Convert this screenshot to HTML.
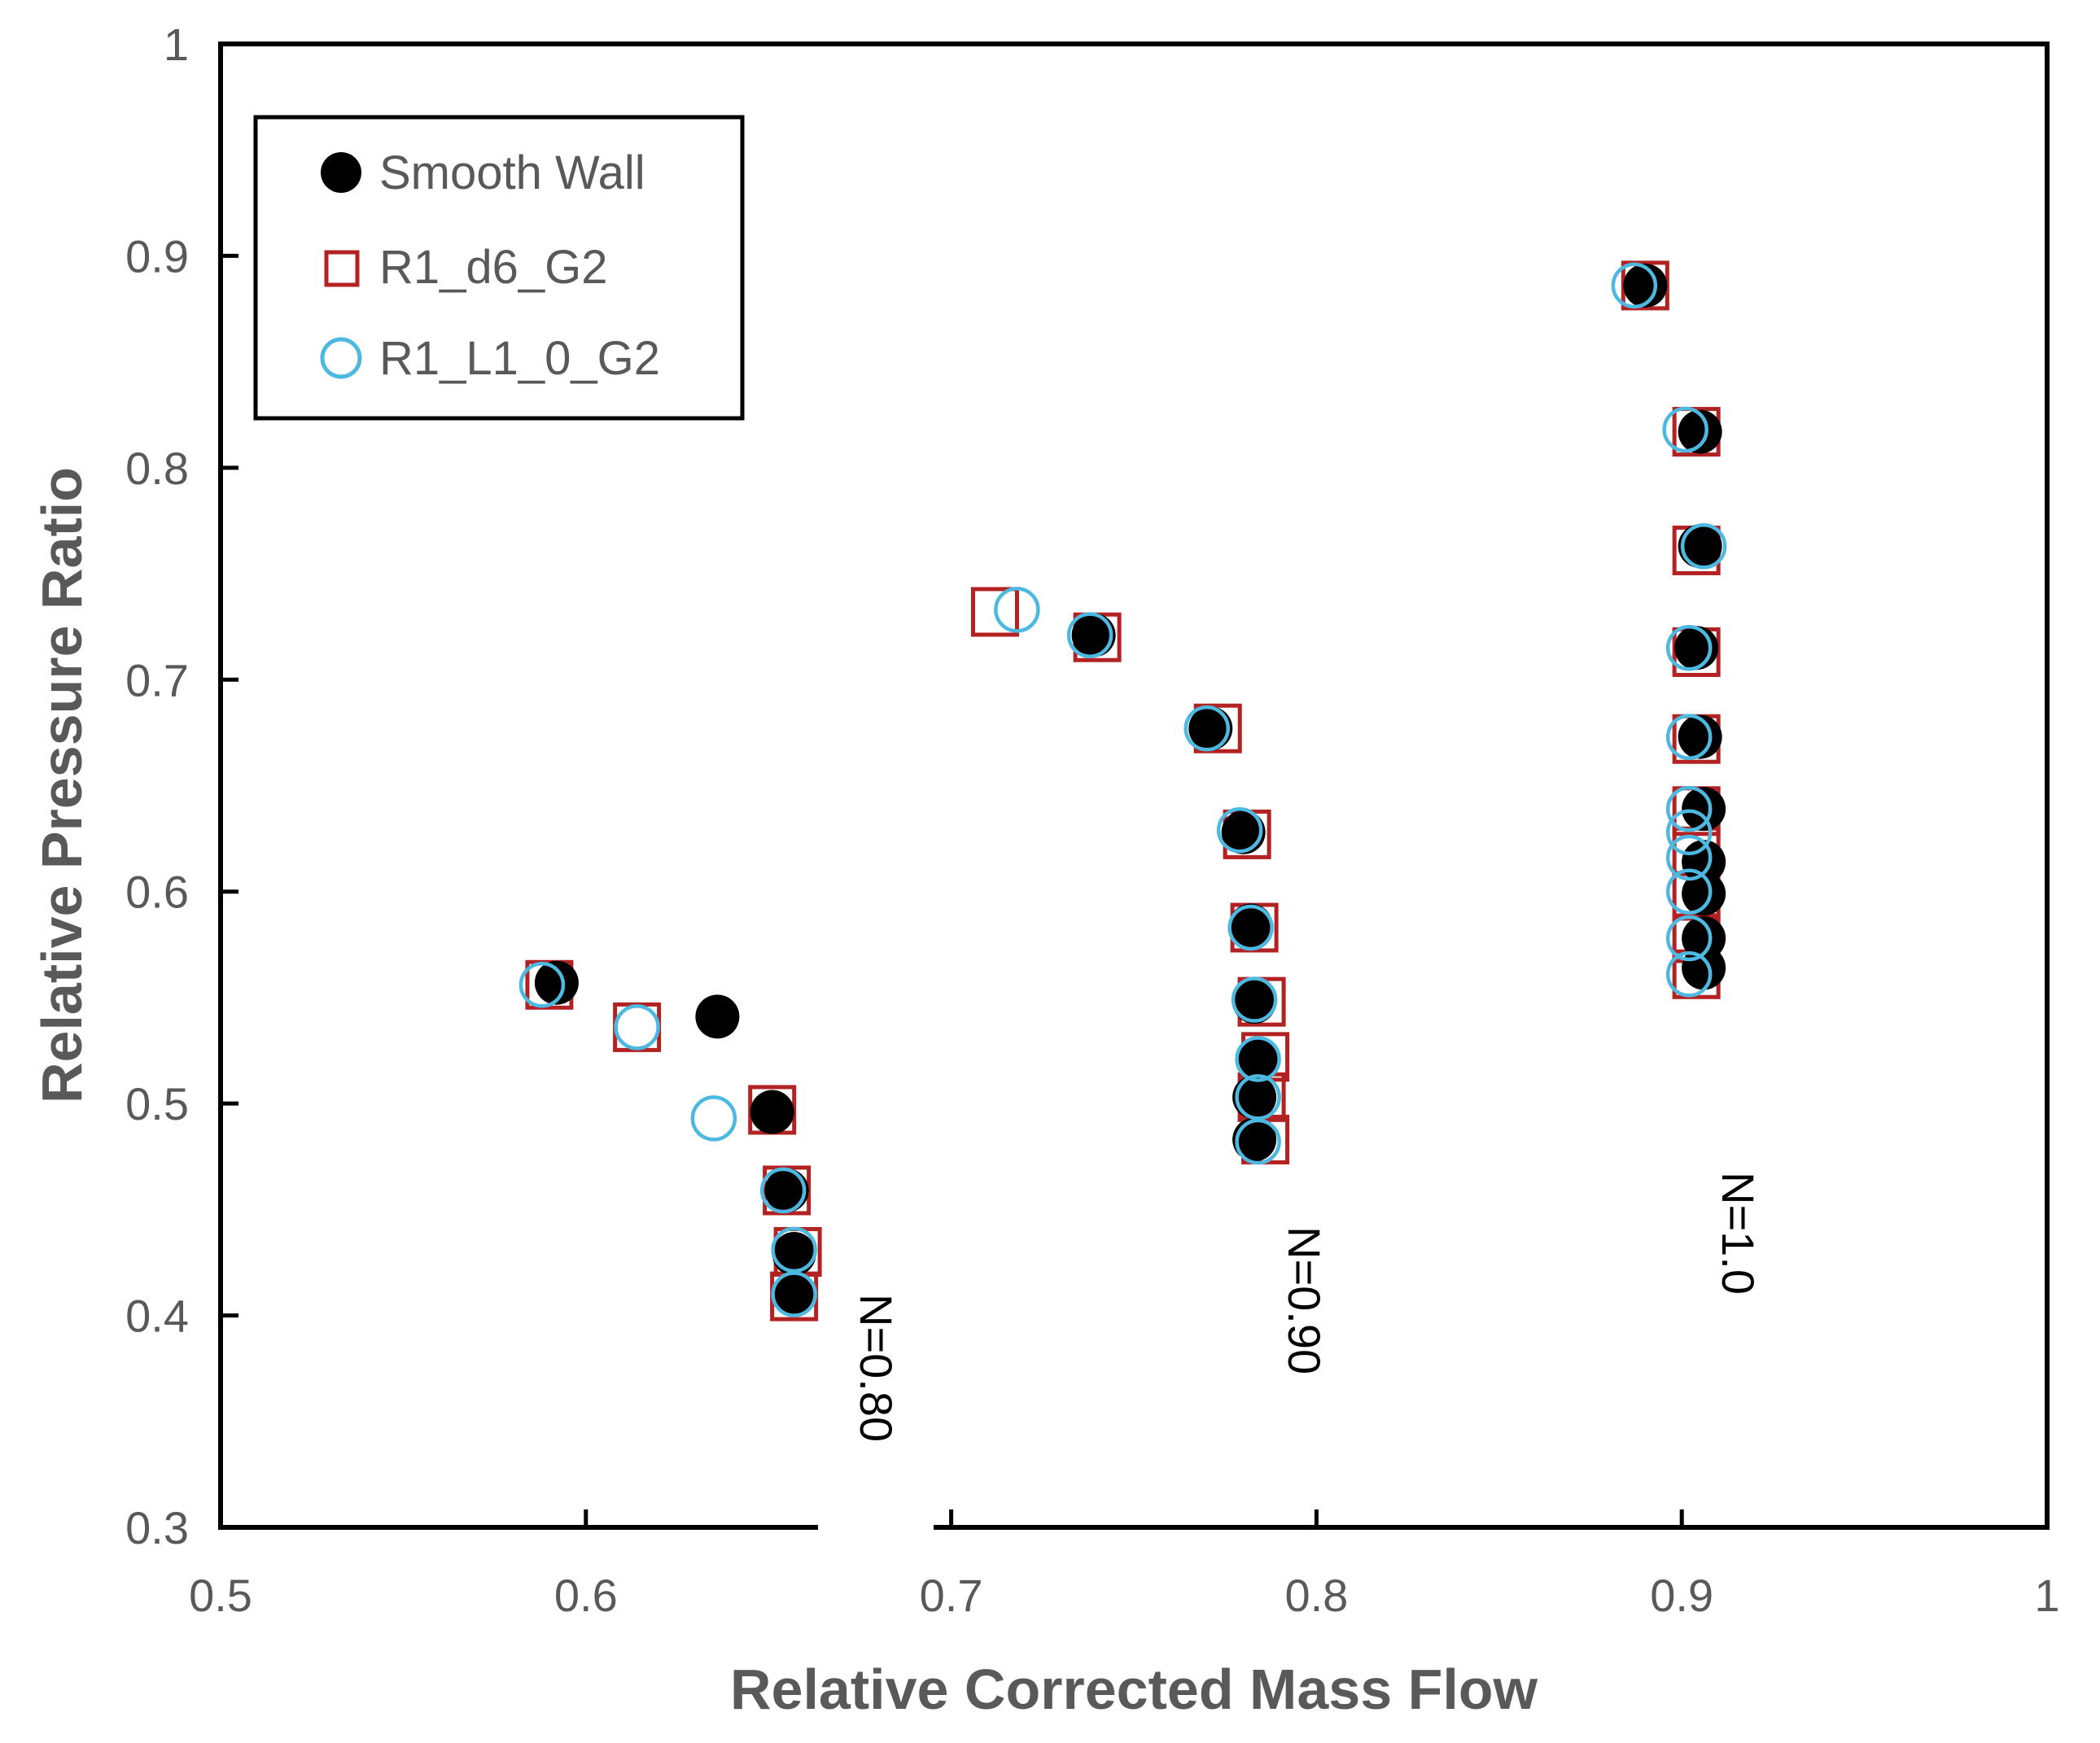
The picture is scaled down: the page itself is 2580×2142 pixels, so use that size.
<!DOCTYPE html>
<html><head><meta charset="utf-8">
<style>
html,body{margin:0;padding:0;background:#fff;}
svg{display:block;}
text{font-family:"Liberation Sans",sans-serif;}
</style></head>
<body>
<svg id="chart" width="2580" height="2142" viewBox="0 0 2580 2142" xmlns="http://www.w3.org/2000/svg">
<rect x="0" y="0" width="2580" height="2142" fill="#fff"/>
<g id="marks"></g>
<g id="axes"></g>
<g id="legend">
  <rect x="314" y="144" width="598" height="370" fill="#fff" stroke="#000" stroke-width="5"/>
  <g>
    <ellipse cx="419" cy="212" rx="25" ry="25" fill="#000"/>
    <text x="466" y="232" font-size="58" fill="#595959">Smooth Wall</text>
  </g>
  <g>
    <rect x="401" y="310" width="38" height="40" fill="none" stroke="#b22222" stroke-width="5"/>
    <text x="466" y="348" font-size="58" fill="#595959">R1_d6_G2</text>
  </g>
  <g>
    <circle cx="419" cy="440" r="23" fill="none" stroke="#4db8e0" stroke-width="5"/>
    <text x="466" y="460" font-size="58" fill="#595959">R1_L1_0_G2</text>
  </g>
</g>
<text x="1393" y="2100" text-anchor="middle" font-size="70" font-weight="bold" fill="#595959">Relative Corrected Mass Flow</text>
<text transform="translate(100,965) rotate(-90)" text-anchor="middle" font-size="70" font-weight="bold" fill="#595959">Relative Pressure Ratio</text>
<text transform="translate(1057,1590) rotate(90)" font-size="56" fill="#000">N=0.80</text>
<text transform="translate(1583,1507) rotate(90)" font-size="56" fill="#000">N=0.90</text>
<text transform="translate(2116,1440) rotate(90)" font-size="56" fill="#000">N=1.0</text>
</svg>
<script>
const xTicks = [0.5,0.6,0.7,0.8,0.9,1];
const xTickLabels = ["0.5","0.6","0.7","0.8","0.9","1"];
const yTicks = [0.3,0.4,0.5,0.6,0.7,0.8,0.9,1];
const yTickLabels = ["0.3","0.4","0.5","0.6","0.7","0.8","0.9","1"];

const smoothX = [0.592,0.636,0.651,0.655,0.657,0.657, 0.739,0.771,0.780,0.782,0.783,0.784,0.783,0.783, 0.890,0.905,0.905,0.904,0.905,0.906,0.906,0.906,0.906,0.906];
const smoothY = [0.557,0.541,0.496,0.459,0.429,0.410, 0.721,0.677,0.628,0.584,0.548,0.521,0.503,0.483, 0.886,0.817,0.763,0.715,0.673,0.639,0.614,0.599,0.578,0.564];
const d6X = [0.590,0.614,0.651,0.655,0.658,0.657, 0.712,0.740,0.773,0.781,0.783,0.785,0.786,0.785,0.786, 0.890,0.904,0.904,0.904,0.904,0.904,0.904,0.904,0.904,0.904];
const d6Y = [0.556,0.536,0.497,0.459,0.430,0.409, 0.732,0.720,0.677,0.627,0.583,0.548,0.522,0.503,0.483, 0.886,0.817,0.761,0.713,0.672,0.638,0.619,0.598,0.578,0.561];
const l1X = [0.588,0.614,0.635,0.654,0.657,0.657, 0.718,0.738,0.770,0.779,0.782,0.783,0.784,0.784,0.784, 0.887,0.901,0.906,0.902,0.902,0.902,0.902,0.902,0.902,0.902,0.902];
const l1Y = [0.556,0.536,0.493,0.459,0.431,0.410, 0.733,0.721,0.677,0.629,0.583,0.549,0.521,0.503,0.482, 0.886,0.818,0.763,0.715,0.673,0.639,0.628,0.616,0.600,0.578,0.561];

const X0=271, X1=2515, Y0=1877, Y1=54;
function sx(v){return X0+(v-0.5)/0.5*(X1-X0);}
function sy(v){return Y0-(v-0.3)/0.7*(Y0-Y1);}
const NS="http://www.w3.org/2000/svg";
function mk(tag,attrs,parent){const e=document.createElementNS(NS,tag);for(const k in attrs)e.setAttribute(k,attrs[k]);parent.appendChild(e);return e;}
const marks=document.getElementById('marks');
const axes=document.getElementById('axes');

for(let i=0;i<d6X.length;i++){
  const e=mk('rect',{x:sx(d6X[i])-27,y:sy(d6Y[i])-28,width:54,height:56,fill:'none',stroke:'#b22222','stroke-width':5},marks);
  
  
}
for(let i=0;i<smoothX.length;i++){
  const e=mk('circle',{cx:sx(smoothX[i]),cy:sy(smoothY[i]),r:27,fill:'#000'},marks);
  
  
}
for(let i=0;i<l1X.length;i++){
  const e=mk('circle',{cx:sx(l1X[i]),cy:sy(l1Y[i]),r:26,fill:'none',stroke:'#4db8e0','stroke-width':4.5},marks);
  
  
}

const fr=mk('rect',{x:X0,y:Y1,width:X1-X0,height:Y0-Y1,fill:'none',stroke:'#000','stroke-width':6},axes);


const gap=mk('rect',{x:1005,y:Y0-5,width:142,height:12,fill:'#fff'},axes);



for(let i=0;i<xTicks.length;i++){
  const x=sx(xTicks[i]);
  if(i>0&&i<xTicks.length-1){
    const t=mk('line',{x1:x,y1:Y0,x2:x,y2:Y0-22,stroke:'#000','stroke-width':5},axes);
    
    
  }
  const l=mk('text',{x:x,y:1980,'text-anchor':'middle','font-size':56,fill:'#595959'},axes);
  l.textContent=xTickLabels[i];
  
  
}
for(let i=0;i<yTicks.length;i++){
  const y=sy(yTicks[i]);
  if(i>0&&i<yTicks.length-1){
    const t=mk('line',{x1:X0,y1:y,x2:X0+22,y2:y,stroke:'#000','stroke-width':5},axes);
    
    
  }
  const l=mk('text',{x:232,y:y+20,'text-anchor':'end','font-size':56,fill:'#595959'},axes);
  l.textContent=yTickLabels[i];
  
  
}
</script>
</body></html>
